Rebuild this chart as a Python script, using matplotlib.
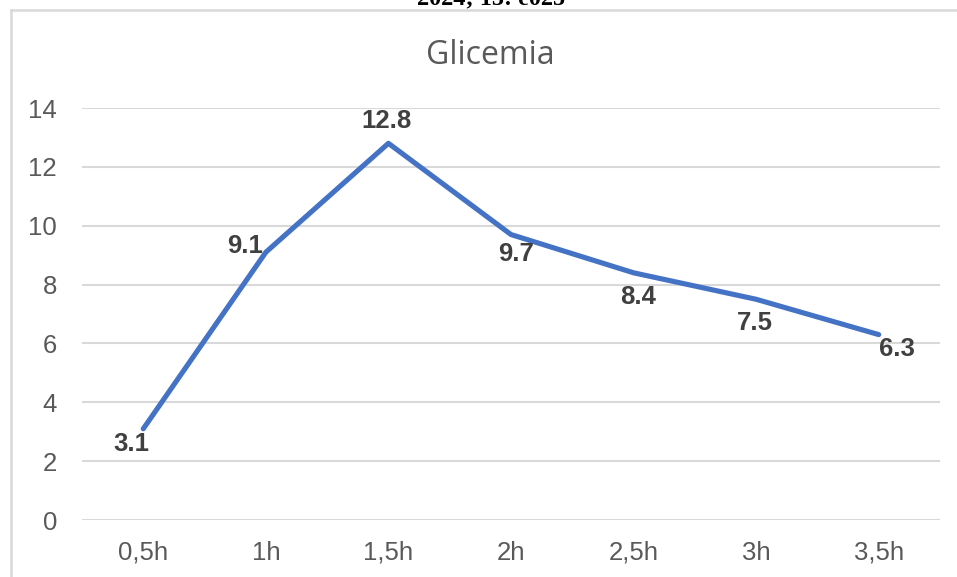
import matplotlib
matplotlib.use("Agg")
import matplotlib.pyplot as plt
from matplotlib.lines import Line2D

# Blood glucose readings over time
times = ["0,5h", "1h", "1,5h", "2h", "2,5h", "3h", "3,5h"]
glicemia = [3.1, 9.1, 12.8, 9.7, 8.4, 7.5, 6.3]
y_ticks = [0, 2, 4, 6, 8, 10, 12, 14]

# label offsets (pixels) for each value tag
label_offsets = [(-12, -15), (-21, 6), (-2, 22), (5, -19), (4, -24), (-1, -24), (18, -14)]

W, H = 957, 577
fig = plt.figure(figsize=(W / 100, H / 100), dpi=100)
fig.patch.set_facecolor("white")

ax = fig.add_axes([82 / W, (H - 520) / H, (940 - 82) / W, (520 - 108) / H])
x = list(range(len(times)))
ax.plot(x, glicemia, color="#4472C4", lw=3.7, solid_joinstyle="round", solid_capstyle="round", zorder=3)

ax.set_xlim(-0.5, len(times) - 0.5)
ax.set_ylim(0, 14)
ax.set_yticks(y_ticks)
ax.set_xticks(x)
ax.set_xticklabels(times)
ax.grid(axis="y", color="#D9D9D9", lw=1.5)
ax.set_axisbelow(True)
for s in ax.spines.values():
    s.set_visible(False)
ax.tick_params(axis="both", length=0, labelsize=18.5, labelcolor="#595959")
ax.tick_params(axis="y", pad=18)
ax.tick_params(axis="x", pad=15)
for lab in ax.get_xticklabels() + ax.get_yticklabels():
    lab.set_fontfamily("Liberation Sans")

for xi, v, (dx, dy) in zip(x, glicemia, label_offsets):
    ax.annotate(f"{v}", (xi, v), xytext=(dx, dy), textcoords="offset pixels",
                ha="center", va="center", fontsize=18.5, fontweight="bold",
                color="#404040", family="Liberation Sans", zorder=4)

fig.text(490 / W, 1 - 55 / H, "Glicemia", ha="center", va="center",
         fontsize=23, color="#595959", family="Open Sans")

# chart frame edges
fig.add_artist(Line2D([10.5 / W, 1], [1 - 9.5 / H, 1 - 9.5 / H], color="#D9D9D9", lw=1.8))
fig.add_artist(Line2D([10.5 / W, 10.5 / W], [0, 1 - 9.5 / H], color="#D9D9D9", lw=1.8))

# running header above the chart
fig.text(491 / W, 1 - 4 / H, "2024; 15: e025", ha="center", va="baseline",
         fontsize=17.5, fontweight="bold", color="black", family="Liberation Serif")

fig.savefig("out.png", dpi=100)
